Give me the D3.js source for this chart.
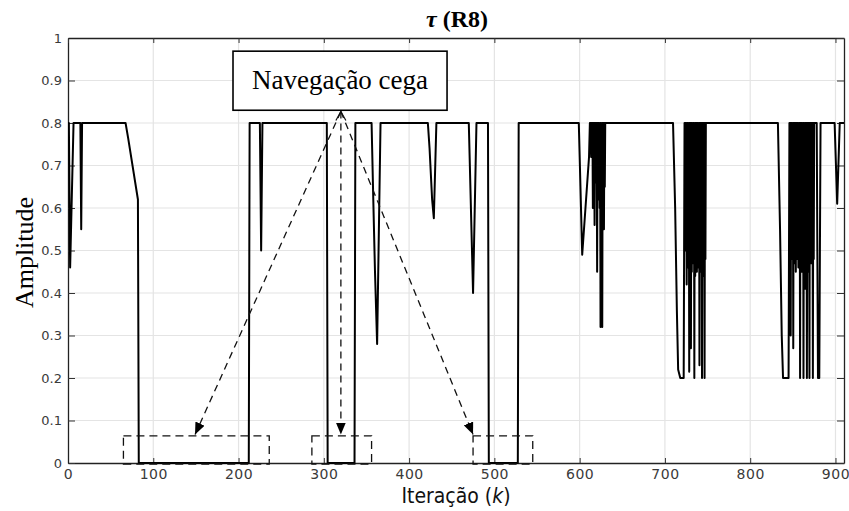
<!DOCTYPE html>
<html>
<head>
<meta charset="utf-8">
<script src="https://cdn.jsdelivr.net/npm/d3@7"></script>
<style>
body { margin: 0; background: #fff; }
.tick text { font-family: "DejaVu Sans", sans-serif; fill: #3a3a3a; }
</style>
</head>
<body>
<div id="chart"></div>
<script>

// iteration k and amplitude of tau (R8)
const iterK = [
0, 1, 2.5, 6.5, 14.5, 15.5, 16.5, 67.5, 70.5, 82, 83,
212, 213, 225, 226.5, 228, 303.5, 304.5, 336, 337,
356, 358, 360, 362.5, 366.5, 422, 424, 427, 429, 432,
470, 475, 479, 492.5, 493.5, 527.5, 528.5,
599, 603, 611, 612, 612.5, 613, 613.5, 614, 614.5, 615, 615.5, 616, 616.5, 617, 617.5, 618, 618.5,
619, 619.5, 620, 620.5, 621, 621.5, 622, 622.5, 623, 623.5, 624, 624.5, 625, 625.5, 626, 626.5,
627, 627.5, 628, 628.5, 629, 629.5, 630, 630.5,
709.5, 712, 714, 715.5, 718, 722,
723, 723.5, 724, 724.5, 725, 725.5, 726, 726.5, 727, 727.5, 728, 728.5, 729, 729.5, 730, 730.5,
731, 731.5, 732, 732.5, 733, 733.5, 734, 734.5, 735, 735.5, 736, 736.5, 737, 737.5, 738, 738.5,
739, 739.5, 740, 740.5, 741, 741.5, 742, 742.5, 743, 743.5, 744, 744.5, 745, 745.5, 746, 746.5,
747, 747.5, 748,
832.5, 835, 837, 838.5, 845,
846, 846.5, 847, 847.5, 848, 848.5, 849, 849.5, 850, 850.5, 851, 851.5, 852, 852.5, 853, 853.5,
854, 854.5, 855, 855.5, 856, 856.5, 857, 857.5, 858, 858.5, 859, 859.5, 860, 860.5, 861, 861.5,
862, 862.5, 863, 863.5, 864, 864.5, 865, 865.5, 866, 866.5, 867, 867.5, 868, 868.5, 869, 869.5,
870, 870.5, 871, 871.5, 872, 872.5, 873, 873.5, 874, 874.5, 875,
878, 879.5, 881, 882.5, 899, 902, 905, 910
];

const tau = [
0.8, 0.8, 0.46, 0.8, 0.8, 0.55, 0.8, 0.8, 0.765, 0.62, 0,
0, 0.8, 0.8, 0.5, 0.8, 0.8, 0, 0, 0.8,
0.8, 0.62, 0.45, 0.28, 0.8, 0.8, 0.74, 0.62, 0.576, 0.8,
0.8, 0.4, 0.8, 0.8, 0, 0, 0.8,
0.8, 0.49, 0.72, 0.8, 0.74, 0.8, 0.72, 0.8, 0.76, 0.8, 0.6, 0.8, 0.7, 0.8, 0.56, 0.8, 0.72, 0.8,
0.66, 0.8, 0.45, 0.8, 0.7, 0.8, 0.62, 0.8, 0.6, 0.8, 0.32, 0.8, 0.65, 0.8, 0.32, 0.8,
0.6, 0.8, 0.55, 0.8, 0.65, 0.8, 0.8,
0.8, 0.6, 0.36, 0.22, 0.2, 0.2,
0.8, 0.55, 0.8, 0.5, 0.8, 0.42, 0.8, 0.48, 0.8, 0.46, 0.8, 0.215, 0.8, 0.47, 0.8, 0.27,
0.8, 0.45, 0.8, 0.47, 0.8, 0.5, 0.8, 0.2, 0.8, 0.44, 0.8, 0.48, 0.8, 0.45, 0.8, 0.5,
0.8, 0.46, 0.8, 0.23, 0.8, 0.45, 0.8, 0.48, 0.8, 0.2, 0.8, 0.47, 0.8, 0.44, 0.8, 0.2,
0.8, 0.48, 0.8,
0.8, 0.55, 0.3, 0.2, 0.2,
0.8, 0.5, 0.8, 0.3, 0.8, 0.48, 0.8, 0.55, 0.8, 0.27, 0.8, 0.5, 0.8, 0.47, 0.8, 0.45,
0.8, 0.5, 0.8, 0.48, 0.8, 0.46, 0.8, 0.5, 0.8, 0.2, 0.8, 0.47, 0.8, 0.45, 0.8, 0.48,
0.8, 0.2, 0.8, 0.47, 0.8, 0.41, 0.8, 0.5, 0.8, 0.2, 0.8, 0.46, 0.8, 0.45, 0.8, 0.2,
0.8, 0.48, 0.8, 0.47, 0.8, 0.5, 0.8, 0.2, 0.8, 0.48, 0.8,
0.8, 0.2, 0.2, 0.8, 0.8, 0.61, 0.8, 0.8
];

const xTicks = [0, 100, 200, 300, 400, 500, 600, 700, 800, 900];
const yTicks = [0, 0.1, 0.2, 0.3, 0.4, 0.5, 0.6, 0.7, 0.8, 0.9, 1];

// "blind navigation" zones: [kStart, kEnd]
const blindZones = [[65, 236], [286, 356], [475, 545]];
// arrow tips (k) for each zone
const arrowTips = [149, 320, 475];

//////////////////////////////////////////////////////////////////////////////

const svgWidth = 849, svgHeight = 511;
const margin = { top: 38, right: 5, bottom: 48, left: 68 };
const width = svgWidth - margin.left - margin.right;
const height = svgHeight - margin.top - margin.bottom;

const svg = d3.select("#chart")
  .append("svg")
  .attr("width", svgWidth)
  .attr("height", svgHeight);

const defs = svg.append("defs");
defs.append("clipPath").attr("id", "clip")
  .append("rect").attr("width", width).attr("height", height + 2).attr("y", -1);
defs.append("marker")
  .attr("id", "head")
  .attr("viewBox", "0 0 12 10")
  .attr("refX", 12).attr("refY", 5)
  .attr("markerWidth", 12).attr("markerHeight", 10)
  .attr("markerUnits", "userSpaceOnUse")
  .attr("orient", "auto")
  .append("path").attr("d", "M0,0 L12,5 L0,10 Z").attr("fill", "#000");

const chartGroup = svg.append("g")
  .attr("transform", `translate(${margin.left}, ${margin.top})`);

const xScale = d3.scaleLinear().domain([0, 910]).range([0, width]);
const yScale = d3.scaleLinear().domain([0, 1]).range([height, 0]);

//////////////////////////////////////////////////////////////////////////////
// grid

chartGroup.append("g").selectAll("line")
  .data(xTicks.slice(1))
  .enter().append("line")
  .attr("x1", d => xScale(d)).attr("x2", d => xScale(d))
  .attr("y1", 0).attr("y2", height)
  .attr("stroke", "#e4e4e4").attr("stroke-width", 1.2);

chartGroup.append("g").selectAll("line")
  .data(yTicks.slice(1, -1))
  .enter().append("line")
  .attr("x1", 0).attr("x2", width)
  .attr("y1", d => yScale(d)).attr("y2", d => yScale(d))
  .attr("stroke", "#e4e4e4").attr("stroke-width", 1.2);

//////////////////////////////////////////////////////////////////////////////
// axes

const xAxis = chartGroup.append("g")
  .attr("transform", `translate(0, ${height})`)
  .call(d3.axisBottom(xScale).tickValues(xTicks).tickSize(-5).tickPadding(6).tickSizeOuter(0));
xAxis.selectAll("text").style("font-size", "14px").style("letter-spacing", "0.5px");

const yAxis = chartGroup.append("g")
  .call(d3.axisLeft(yScale).tickValues(yTicks).tickFormat(d3.format("")).tickSize(-7).tickPadding(6).tickSizeOuter(0));
yAxis.selectAll("text").style("font-size", "13px");

chartGroup.append("g")
  .call(d3.axisTop(xScale).tickValues(xTicks).tickSize(-5).tickFormat("").tickSizeOuter(0));
chartGroup.append("g")
  .attr("transform", `translate(${width}, 0)`)
  .call(d3.axisRight(yScale).tickValues(yTicks).tickSize(-7).tickFormat("").tickSizeOuter(0));

chartGroup.selectAll(".domain").attr("stroke", "#222").attr("stroke-width", 1.3);
chartGroup.selectAll(".tick line").attr("stroke", "#333");

//////////////////////////////////////////////////////////////////////////////
// line

const lineData = iterK.map((k, i) => ({ k: k, v: tau[i] }));

chartGroup.append("path")
  .datum(lineData)
  .attr("clip-path", "url(#clip)")
  .attr("fill", "none")
  .attr("stroke", "#000")
  .attr("stroke-width", 2)
  .attr("stroke-linejoin", "round")
  .attr("d", d3.line().x(d => xScale(d.k)).y(d => yScale(d.v)));

//////////////////////////////////////////////////////////////////////////////
// annotation

const zoneTop = 0.064;

chartGroup.selectAll(".zone")
  .data(blindZones)
  .enter().append("rect")
  .attr("class", "zone")
  .attr("x", d => xScale(d[0]))
  .attr("y", yScale(zoneTop))
  .attr("width", d => xScale(d[1]) - xScale(d[0]))
  .attr("height", yScale(0) - yScale(zoneTop) + 1)
  .attr("fill", "none")
  .attr("stroke", "#111")
  .attr("stroke-width", 1.3)
  .attr("stroke-dasharray", "8,5");

const origin = { k: 320, v: 0.827 };

chartGroup.selectAll(".arrow")
  .data(arrowTips)
  .enter().append("line")
  .attr("class", "arrow")
  .attr("x1", xScale(origin.k)).attr("y1", yScale(origin.v))
  .attr("x2", d => xScale(d)).attr("y2", yScale(zoneTop + 0.003))
  .attr("stroke", "#111")
  .attr("stroke-width", 1.3)
  .attr("stroke-dasharray", "7,5")
  .attr("marker-end", "url(#head)");

// small caret at the top of the arrows
chartGroup.append("path")
  .attr("d", `M${xScale(origin.k) - 5},${yScale(origin.v) + 9} L${xScale(origin.k)},${yScale(origin.v)} L${xScale(origin.k) + 5},${yScale(origin.v) + 9}`)
  .attr("fill", "none").attr("stroke", "#111").attr("stroke-width", 1.2);

const boxK = [193.5, 444.5], boxV = [0.83, 0.969];
chartGroup.append("rect")
  .attr("x", xScale(boxK[0]))
  .attr("y", yScale(boxV[1]))
  .attr("width", xScale(boxK[1]) - xScale(boxK[0]))
  .attr("height", yScale(boxV[0]) - yScale(boxV[1]))
  .attr("fill", "#fff")
  .attr("stroke", "#000")
  .attr("stroke-width", 1.6);

chartGroup.append("text")
  .attr("x", (xScale(boxK[0]) + xScale(boxK[1])) / 2)
  .attr("y", yScale(boxV[0]) - 21)
  .attr("text-anchor", "middle")
  .style("font-family", "'Liberation Serif', 'Times New Roman', serif")
  .style("font-size", "27px")
  .text("Navegação cega");

//////////////////////////////////////////////////////////////////////////////
// titles

const title = svg.append("text")
  .attr("x", margin.left + width / 2 + 1)
  .attr("y", 27)
  .attr("text-anchor", "middle")
  .style("font-family", "'Liberation Serif', 'Times New Roman', serif")
  .style("font-size", "24px")
  .style("font-weight", "bold");
title.append("tspan").style("font-style", "italic").text("τ");
title.append("tspan").text(" (R8)");

svg.append("text")
  .attr("transform", `translate(33, ${margin.top + height / 2 + 2}) rotate(-90)`)
  .attr("text-anchor", "middle")
  .style("font-family", "'Liberation Serif', 'Times New Roman', serif")
  .style("font-size", "26px")
  .text("Amplitude");

const xLabel = svg.append("text")
  .attr("x", margin.left + width / 2 + 0)
  .attr("y", 503)
  .attr("text-anchor", "middle")
  .style("font-family", "'Liberation Sans Narrow', 'DejaVu Sans Condensed', sans-serif")
  .style("font-size", "21px")
  .style("fill", "#111");
xLabel.append("tspan").text("Iteração (");
xLabel.append("tspan").style("font-style", "italic").text("k");
xLabel.append("tspan").text(")");

</script>
</body>
</html>
